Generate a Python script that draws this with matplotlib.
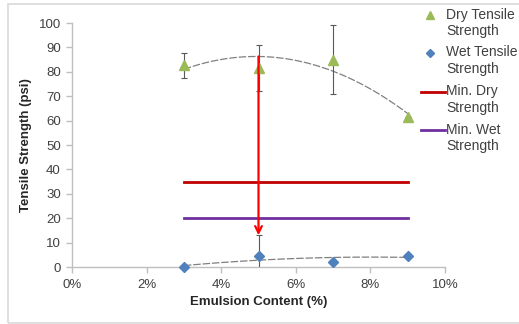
import numpy as np
import matplotlib
matplotlib.use("Agg")
import matplotlib.pyplot as plt
from matplotlib.lines import Line2D
from matplotlib.patches import Rectangle
from matplotlib.ticker import FuncFormatter, MultipleLocator

plt.rcParams['font.family'] = ['Liberation Sans', 'DejaVu Sans']

# Data (emulsion content in %, strength in psi)
emulsion = [3, 5, 7, 9]
dry_strength = [82.6, 81.5, 85.0, 61.3]
dry_err = [5.2, 9.5, 14.2, 0.0]
wet_strength = [0.0, 4.5, 2.2, 4.5]
wet_err = [0.0, 8.6, 0.0, 0.0]
min_dry = 35
min_wet = 20
arrow_end = 13

legend_labels = ["Dry Tensile\nStrength", "Wet Tensile\nStrength",
                 "Min. Dry\nStrength", "Min. Wet\nStrength"]

green = "#9BBB59"
blue = "#4F81BD"
red_line = "#C00000"
purple = "#7030A0"
spine_gray = "#BFBFBF"
text_gray = "#404040"

W, H = 519, 324
fig = plt.figure(figsize=(W / 100, H / 100), dpi=100)
ax = fig.add_axes([72 / W, 1 - 267 / H, (445 - 72) / W, (267 - 23) / H])

# Chart frame
fig.add_artist(Rectangle((8 / W, 1.5 / H), 520 / W, (320 - 1.5) / H,
                         transform=fig.transFigure, fill=False,
                         edgecolor="#D9D9D9", lw=1.2))

x = np.array(emulsion, dtype=float)

# Polynomial (order 2) trendlines
xs = np.linspace(3, 9, 100)
dry_fit = np.polyfit(x, dry_strength, 2)
wet_fit = np.polyfit(x, wet_strength, 2)
ax.plot(xs, np.polyval(dry_fit, xs), color="#808080", lw=0.9,
        dashes=(6, 1.5), zorder=2)
ax.plot(xs, np.polyval(wet_fit, xs), color="#808080", lw=0.9,
        dashes=(6, 1.5), zorder=2)

# Minimum strength lines
ax.plot(x, [min_dry] * len(x), color=red_line, lw=2, zorder=3)
ax.plot(x, [min_wet] * len(x), color=purple, lw=2, zorder=3)

# Measured strengths with error bars
ax.errorbar(x, dry_strength, yerr=dry_err, fmt="none", ecolor="#595959",
            elinewidth=0.8, capsize=2.5, capthick=0.8, zorder=4)
ax.errorbar(x, wet_strength, yerr=wet_err, fmt="none", ecolor="#595959",
            elinewidth=0.8, capsize=2.5, capthick=0.8, zorder=4)
ax.plot(x, dry_strength, "^", color=green, ms=7.5, mec=green, zorder=5,
        clip_on=False)
ax.plot(x, wet_strength, "D", color=blue, ms=5.5, mec=blue, zorder=5,
        clip_on=False)

# Arrow from dry trend at 5% down to the wet range
ax.annotate("", xy=(5, arrow_end), xytext=(5, np.polyval(dry_fit, 5)),
            arrowprops=dict(arrowstyle="->", color="#FF0000", lw=1.6,
                            mutation_scale=12, shrinkA=0, shrinkB=0),
            zorder=6)

ax.set_xlim(0, 10)
ax.set_ylim(0, 100)
ax.xaxis.set_major_locator(MultipleLocator(2))
ax.yaxis.set_major_locator(MultipleLocator(10))
ax.xaxis.set_major_formatter(FuncFormatter(lambda v, p: f"{v:.0f}%"))

for s in ("top", "right"):
    ax.spines[s].set_visible(False)
for s in ("left", "bottom"):
    ax.spines[s].set_color(spine_gray)
    ax.spines[s].set_linewidth(1)
ax.tick_params(axis="both", colors=spine_gray, labelcolor=text_gray,
               labelsize=9.5, length=4, width=1, direction="out")
ax.tick_params(axis="x", pad=5)
ax.tick_params(axis="y", pad=4)

ax.set_xlabel("Emulsion Content (%)", fontsize=9.5, fontweight="bold",
              color="#262626", labelpad=3)
ax.set_ylabel("Tensile Strength (psi)", fontsize=9.5, fontweight="bold",
              color="#262626", labelpad=5)

# Legend at the right
tf = fig.transFigure
row_y = [15, 53, 92, 130]
for i, (lab, yy) in enumerate(zip(legend_labels, row_y)):
    fy = 1 - yy / H
    if i == 0:
        fig.add_artist(Line2D([430 / W], [fy], marker="^", color=green,
                              ms=6, transform=tf))
    elif i == 1:
        fig.add_artist(Line2D([430 / W], [fy], marker="D", color=blue,
                              ms=4.5, transform=tf))
    else:
        col = red_line if i == 2 else purple
        fig.add_artist(Line2D([421 / W, 445 / W], [fy, fy], color=col,
                              lw=2, transform=tf))
    fig.text(446 / W, 1 - (yy - 7.5) / H, lab, fontsize=10,
             color=text_gray, va="top", ha="left", linespacing=1.2)

fig.savefig("out.png", dpi=100)
